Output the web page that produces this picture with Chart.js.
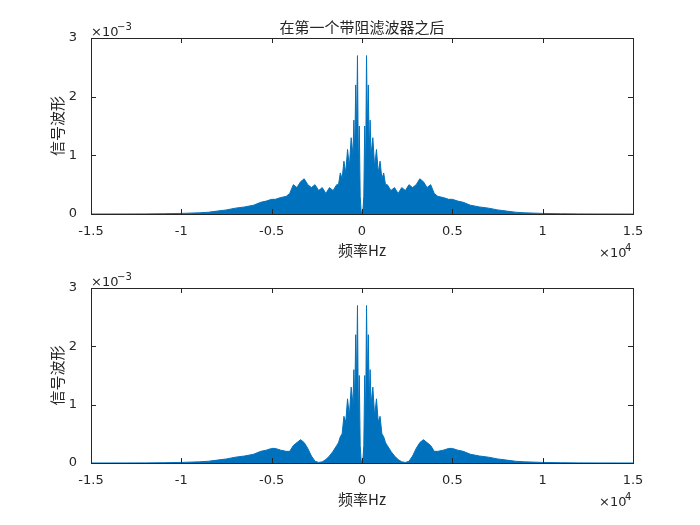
<!DOCTYPE html>
<html><head><meta charset="utf-8">
<script src="https://cdn.jsdelivr.net/npm/chart.js@4"></script>
<style>
body{margin:0;background:#fff;width:700px;height:525px;position:relative;overflow:hidden}
.w{position:absolute;left:0;width:700px}
</style></head><body>
<div class="w" style="top:0;height:262px"><canvas id="c1"></canvas></div>
<div class="w" style="top:262px;height:263px"><canvas id="c2"></canvas></div>
<script>
// positive-frequency half (Hz); amplitudes in units of 1e-3
const freqs = [0,50,100,150,200,250,300,350,400,450,500,600,700,800,900,1000,1100,1200,1300,1400,1600,1800,2000,2200,2400,2600,2800,3000,3200,3400,3600,3800,4000,4200,4500,4800,5000,5300,5600,6000,6500,7000,7500,8000,8500,9000,10000,11000,12000,13000,15000];
const ampTop = [0.02,0.05,0.3,1.5,0.7,2.7,1.4,2.2,1.0,1.6,1.0,1.3,0.8,1.1,0.7,0.9,0.6,0.7,0.5,0.5,0.4,0.45,0.35,0.45,0.4,0.5,0.45,0.5,0.6,0.55,0.45,0.5,0.35,0.3,0.28,0.25,0.25,0.22,0.2,0.15,0.12,0.1,0.07,0.05,0.03,0.02,0.01,0.005,0.002,0.001,0];
const ampBottom = [0.02,0.05,0.3,1.5,0.7,2.7,1.4,2.2,1.0,1.6,1.0,1.3,0.8,1.1,0.7,0.8,0.5,0.45,0.35,0.3,0.2,0.12,0.06,0.02,0.01,0.03,0.12,0.25,0.35,0.4,0.35,0.3,0.2,0.2,0.22,0.25,0.25,0.22,0.2,0.15,0.12,0.1,0.07,0.05,0.03,0.02,0.01,0.005,0.002,0.001,0];
const xTicks = [-15000,-10000,-5000,0,5000,10000,15000];
const yTicks = [0,1,2,3];

function points(amps){
  const neg = freqs.slice(1).map((f,i)=>({x:-f,y:amps[i+1]})).reverse();
  return neg.concat(freqs.map((f,i)=>({x:f,y:amps[i]})));
}
const FONT = '"DejaVu Sans", sans-serif';
const boxPlugin = (title) => ({
  id:'box',
  afterDraw(ch){
    const {ctx, chartArea:a} = ch;
    ctx.save();
    ctx.strokeStyle='#262626'; ctx.lineWidth=1;
    ctx.strokeRect(a.left+0.5,a.top+0.5,a.right-a.left,a.bottom-a.top);
    const xs=ch.scales.x, ys=ch.scales.y;
    ctx.beginPath();
    xTicks.forEach(v=>{const p=Math.round(xs.getPixelForValue(v))+0.5;
      ctx.moveTo(p,a.bottom);ctx.lineTo(p,a.bottom-5);ctx.moveTo(p,a.top);ctx.lineTo(p,a.top+5);});
    yTicks.forEach(v=>{const p=Math.round(ys.getPixelForValue(v))+0.5;
      ctx.moveTo(a.left,p);ctx.lineTo(a.left+5,p);ctx.moveTo(a.right,p);ctx.lineTo(a.right-5,p);});
    ctx.stroke();
    ctx.fillStyle='#262626';
    ctx.font='13px '+FONT;
    ctx.textAlign='left'; ctx.textBaseline='alphabetic';
    ctx.fillText('\u00d710',a.left,a.top-2);
    ctx.font='10px '+FONT; ctx.fillText('\u22123',a.left+26,a.top-8);
    ctx.font='13px '+FONT; ctx.fillText('\u00d710',a.right-34,a.bottom+43);
    ctx.font='10px '+FONT; ctx.fillText('4',a.right-8,a.bottom+37);
    ctx.font='15px "Noto Sans CJK SC", sans-serif';
    ctx.textAlign='center';
    ctx.fillText('频率Hz',(a.left+a.right)/2,a.bottom+42);
    if(title) ctx.fillText(title,(a.left+a.right)/2,a.top-5);
    ctx.translate(a.left-28,(a.top+a.bottom)/2); ctx.rotate(-Math.PI/2);
    ctx.fillText('信号波形',0,0);
    ctx.restore();
  }
});
function make(id, amps, padTop, xH, title){
  new Chart(document.getElementById(id),{
    type:'line',
    data:{datasets:[{data:points(amps),borderColor:'#0072BD',backgroundColor:'#0072BD',
      borderWidth:1,pointRadius:0,fill:'origin',tension:0}]},
    options:{responsive:true,maintainAspectRatio:false,animation:false,
      layout:{padding:{top:padTop,left:0,right:67,bottom:0}},
      plugins:{legend:{display:false},tooltip:{enabled:false}},
      scales:{
        x:{type:'linear',min:-15000,max:15000,grid:{display:false},border:{display:false},
          afterBuildTicks:s=>{s.ticks=xTicks.map(v=>({value:v}));},
          afterFit:s=>{s.height=xH;},
          ticks:{color:'#262626',font:{size:13,family:FONT},padding:2,maxRotation:0,
            callback:v=>String(v/10000)}},
        y:{min:0,max:3,grid:{display:false},border:{display:false},
          afterBuildTicks:s=>{s.ticks=yTicks.map(v=>({value:v}));},
          afterFit:s=>{s.width=91;},
          ticks:{color:'#262626',font:{size:13,family:FONT},padding:6}}
      }},
    plugins:[boxPlugin(title)]
  });
}
make('c1',ampTop,38,48,'在第一个带阻滤波器之后');
make('c2',ampBottom,26,62,'');
</script></body></html>
